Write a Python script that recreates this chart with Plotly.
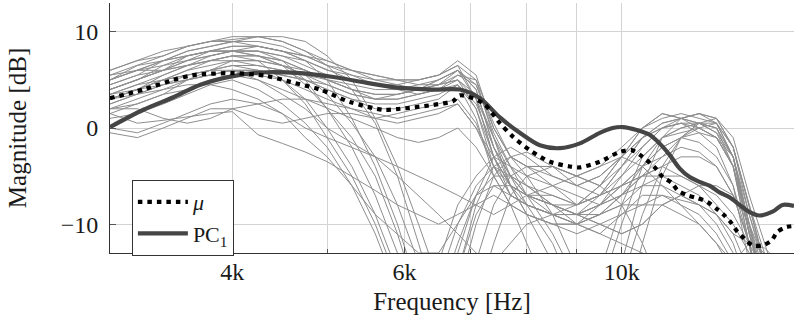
import numpy as np
import plotly.graph_objects as go

# Frequency grid (Hz) shared by the individual responses
freq_hz = [3000, 3200, 3400, 3600, 3800, 4000, 4250, 4500, 4750, 5000, 5300, 5600,
           5900, 6200, 6500, 6800, 7100, 7400, 7700, 8000, 8500, 9000, 9500, 10000,
           10500, 11000, 11500, 12000, 12500, 13000, 13500, 14000, 14500, 15000]

# Individual magnitude responses (dB); values below the axis floor run off the plot
resp_a1 = [5.5, 6.5, 7.5, 8.5, 9.0, 9.2, 9.5, 9.0, 8.0, 6.5, 4.0, 0.5, -5, -12, -19, -15, -8, -4, -3, -4, -6, -8, -7, -4, -1, 0.5, 1.0, 0.5, -0.5, -4, -12, -20, -20, -20]
resp_a2 = [4.0, 5.0, 6.5, 7.0, 7.5, 8.0, 8.0, 7.0, 5.0, 2.0, -2, -7, -13, -20, -16, -10, -6, -4, -5, -7, -9, -10, -8, -5, -2, 0, 0.5, -0.5, -2, -6, -14, -20, -20, -20]
resp_a3 = [3.0, 4.0, 5.5, 6.5, 7.0, 7.5, 7.0, 5.0, 2.5, -1, -5, -10, -16, -20, -14, -8, -5, -3, -4, -6, -8, -9, -10, -11, -10, -8, -7, -8, -10, -13, -18, -20, -20, -20]
resp_a4 = [5.0, 6.0, 6.0, 7.0, 8.0, 8.5, 8.5, 8.0, 7.0, 5.0, 1.0, -4, -10, -17, -20, -13, -7, -3, -2, -3, -5, -6, -5, -3, 0, 1.5, 1.0, 0.0, -1, -4, -12, -20, -20, -20]
resp_a5 = [2.0, 2.5, 3.5, 5.0, 6.0, 6.5, 6.0, 5.0, 3.0, 0.0, -4, -9, -15, -20, -20, -15, -9, -6, -6, -7, -8, -9, -8, -7, -6, -6, -7, -8, -9, -11, -15, -20, -20, -20]
resp_a6 = [4.5, 5.5, 7.0, 7.5, 8.0, 8.0, 7.5, 6.5, 4.5, 2.0, -1, -5, -11, -18, -20, -17, -10, -5, -3, -2.5, -4, -6, -7, -6, -5, -5, -6, -7, -9, -12, -17, -20, -20, -20]
resp_a7 = [3.5, 4.0, 5.0, 6.0, 7.0, 7.5, 7.5, 6.5, 5.5, 3.5, 0.5, -3, -8, -14, -20, -20, -14, -8, -5, -4, -4, -5, -6, -8, -12, -17, -20, -20, -18, -14, -12, -13, -16, -20]
resp_a8 = [5.0, 6.0, 7.0, 8.0, 8.5, 9.0, 9.5, 9.5, 9.0, 7.5, 5.0, 1.0, -4, -10, -16, -20, -18, -12, -7, -5, -4, -5, -6, -4, -2, 0.0, 1.0, 1.5, 0.5, -3, -10, -18, -20, -20]
resp_a9 = [1.0, 1.5, 2.5, 3.5, 4.5, 5.0, 4.0, 2.5, 0.5, -2, -6, -11, -17, -20, -18, -12, -7, -5, -5, -6, -8, -10, -11, -9, -7, -7, -8, -9, -11, -14, -20, -20, -20, -20]
resp_b1 = [4.0, 5.0, 6.0, 7.0, 7.5, 8.0, 8.0, 7.5, 7.0, 6.0, 5.5, 5.0, 5.0, 5.0, 5.5, 6.5, 3.0, -3, -6, -7, -8, -9, -7, -4, -1, 0.5, 1.0, 1.5, 1.0, -2, -9, -15, -20, -20]
resp_b2 = [3.0, 4.0, 5.0, 5.5, 6.0, 6.5, 6.5, 6.0, 5.5, 5.0, 4.5, 4.0, 4.0, 4.5, 5.0, 6.0, 4.0, -2, -5, -6, -7, -8, -6, -3, 0, 1.5, 1.0, 0.5, 0.0, -4, -11, -17, -20, -20]
resp_b3 = [6.0, 7.0, 8.0, 8.5, 9.0, 9.5, 9.5, 9.0, 8.0, 7.0, 6.0, 5.0, 4.5, 4.0, 4.5, 5.0, 2.0, -4, -7, -8, -9, -10, -9, -7, -4, -2, -1, -1.5, -3, -6, -12, -18, -20, -20]
resp_b4 = [2.5, 3.5, 4.5, 5.5, 6.0, 7.0, 7.0, 6.5, 6.0, 5.0, 4.0, 3.5, 3.5, 4.0, 4.5, 5.5, 5.0, -1, -6, -9, -10, -10, -9, -8, -8, -8, -9, -10, -12, -14, -18, -20, -20, -20]
resp_b5 = [5.0, 6.5, 7.0, 8.0, 8.5, 9.0, 9.0, 8.5, 7.5, 6.5, 5.5, 4.5, 4.0, 3.5, 4.0, 5.5, 4.5, -0.5, -4, -5, -6, -7, -8, -7, -5, -3, -1, 0.5, 0.0, -3, -9, -14, -18, -20]
resp_b6 = [4.5, 5.5, 6.0, 6.5, 7.0, 7.5, 7.5, 7.0, 6.0, 5.0, 4.0, 3.0, 3.0, 3.5, 4.0, 4.5, 1.0, -5, -8, -9, -10, -11, -10, -9, -8, -7, -7.5, -8, -9, -11, -12, -12.5, -14, -17]
resp_b7 = [3.5, 4.5, 5.5, 6.5, 7.5, 8.0, 8.5, 8.0, 7.0, 6.0, 5.0, 4.5, 4.5, 5.0, 5.5, 7.0, 5.5, 0.0, -3, -4, -5, -6, -5, -3, -1, 0.0, 0.5, 0.5, 0.0, -3, -10, -16, -20, -20]
resp_b8 = [2.0, 3.0, 4.0, 5.0, 5.5, 6.0, 6.0, 5.5, 5.0, 4.0, 3.0, 2.0, 2.0, 2.5, 3.0, 4.5, 2.0, -3, -7, -8, -9, -9, -8, -6, -4, -2, -1, -0.5, -1, -4, -10, -15, -20, -20]
resp_b9 = [6.0, 7.0, 7.5, 8.5, 9.0, 9.0, 8.5, 8.0, 7.5, 7.0, 6.0, 5.5, 5.0, 4.5, 4.5, 5.0, 3.5, -1, -5, -7, -8, -8, -6, -3, -1, 0, 0.5, 0, -1, -3, -11, -17, -20, -20]
resp_b10 = [3.0, 4.0, 4.5, 5.0, 5.5, 6.0, 6.0, 5.5, 5.0, 4.5, 3.5, 3.0, 3.5, 4.0, 4.5, 6.0, 4.0, -2, -6, -8, -9, -10, -11, -12, -13, -14, -14, -15, -16, -18, -20, -20, -20, -20]
resp_b11 = [4.0, 5.0, 6.0, 7.5, 8.0, 8.0, 8.0, 7.5, 6.5, 5.5, 5.0, 4.5, 4.0, 4.0, 5.0, 6.0, 3.0, -3, -6, -7, -7, -8, -7, -5, -3, -1, 0, 0.5, -0.5, -3, -11, -16, -20, -20]
resp_b12 = [5.5, 6.0, 7.0, 7.5, 8.0, 8.5, 8.5, 8.0, 7.5, 6.5, 6.0, 5.5, 5.0, 5.0, 5.5, 6.5, 5.0, 0.5, -3, -4, -4, -5, -4, -2, 0, 1.0, 1.5, 1.0, 0.5, -2, -8, -14, -20, -20]
resp_c1 = [0.0, -0.5, 0.5, 1.5, 2.5, 3.0, 2.5, 1.5, 0.0, -1, -2, -3, -4, -5, -6, -7, -8, -9, -8, -7, -6, -5, -4, -3, -4, -6, -8, -10, -12, -15, -20, -20, -20, -20]
resp_c2 = [-0.5, -1.0, 0.0, 1.0, 2.0, 2.0, 1.0, 0.5, 1.0, 1.5, 1.5, 1.0, 1.5, 2.0, 2.5, 3.0, 0.5, -4, -7, -8, -9, -9, -10, -11, -10, -8, -7, -6, -6, -7, -10, -14, -17, -20]
resp_c3 = [2.0, 2.0, 1.0, 0.5, 1.0, 2.0, 2.5, 3.0, 3.0, 2.5, 2.0, 1.5, 1.0, 1.5, 2.0, 2.5, 0.0, -4, -6, -7, -8, -9, -9, -8, -6, -5, -5, -6, -7, -9, -12, -15, -20, -20]
resp_c4 = [3.5, 4.5, 5.0, 5.5, 6.0, 6.0, 5.0, 3.5, 2.0, 0.0, -1.5, -3, -5, -7, -9, -11, -13, -14, -12, -10, -9, -8, -7, -6, -5, -4, -3, -3, -4, -7, -12, -18, -20, -20]
resp_c5 = [1.5, 0.5, 0.8, 1.2, 1.5, 1.7, -0.7, -1.6, -2.5, -3.5, -5, -6.5, -8, -9, -10, -9, -8, -7, -8, -9, -10, -10, -9, -7, -5, -4, -5, -6, -8, -10, -13, -16, -18, -20]
resp_c6 = [3.0, 3.5, 4.0, 4.5, 4.5, 4.0, 3.0, 1.5, -1, -3, -6, -9, -11, -13, -13, -10, -7, -6, -7, -8, -9, -9, -8, -6, -4, -3, -2, -2.5, -4, -7, -12, -18, -20, -20]
resp_d1 = [3.0, 4.0, 5.0, 6.0, 6.5, 7.0, 7.0, 6.5, 5.5, 4.5, 3.5, 3.0, 3.0, 3.5, 4.0, 5.0, 3.0, -1, -4, -7, -11, -16, -20, -14, -6, -1, 1.0, 1.5, 1.0, -2, -8, -14, -20, -20]
resp_d2 = [2.5, 3.5, 4.5, 5.0, 5.5, 6.0, 5.5, 5.0, 4.0, 3.0, 2.0, 1.0, 0.5, 1.0, 1.5, 2.5, 0.0, -3, -6, -9, -14, -20, -17, -10, -4, -1, 0.0, 0.5, 0.5, -3, -10, -17, -20, -20]
resp_d3 = [4.0, 5.0, 6.0, 6.5, 7.0, 7.0, 6.5, 6.0, 5.0, 4.0, 3.0, 2.5, 2.5, 3.0, 3.5, 4.5, 2.5, -2, -5, -8, -12, -18, -20, -16, -9, -4, -1, 0.0, 0.5, -2, -8, -13, -18, -20]
resp_d4 = [1.5, 2.5, 3.5, 4.0, 5.0, 5.5, 5.0, 4.0, 3.0, 2.0, 1.0, 0.0, -1, -1.5, -1, 0.0, -2, -5, -8, -12, -18, -20, -15, -8, -3, -1, -0.5, 0.0, -1, -4, -11, -17, -20, -20]
resp_d5 = [5.0, 6.0, 6.5, 7.5, 8.0, 8.0, 7.5, 7.0, 6.0, 5.0, 4.0, 3.5, 3.5, 4.0, 5.0, 6.0, 4.5, 0.0, -3, -5, -9, -15, -20, -20, -12, -5, -1, 0.5, 1.0, -1, -7, -12, -17, -20]

responses = [resp_a1, resp_a2, resp_a3, resp_a4, resp_a5, resp_a6, resp_a7, resp_a8, resp_a9,
             resp_b1, resp_b2, resp_b3, resp_b4, resp_b5, resp_b6, resp_b7, resp_b8, resp_b9,
             resp_b10, resp_b11, resp_b12,
             resp_c1, resp_c2, resp_c3, resp_c4, resp_c5, resp_c6,
             resp_d1, resp_d2, resp_d3, resp_d4, resp_d5]

# Mean response
mean_hz = [3000, 3245, 3483, 3650, 4009, 4343, 4584, 4916, 5277, 5704, 5935, 6417, 6723, 6835,
           7213, 7508, 7741, 8056, 8443, 8851, 9063, 9498, 9955, 10236, 10507, 10833, 11014,
           11249, 11409, 11681, 11955, 12239, 12501, 12736, 12949, 13131, 13348, 13603, 13929,
           14224, 14427, 14736, 15000]
mean_db = [3.1, 4.0, 5.0, 5.5, 5.7, 5.4, 4.8, 4.0, 2.7, 1.9, 2.0, 2.4, 2.8, 3.4,
           2.6, 0.5, -0.9, -2.3, -3.5, -4.0, -4.1, -3.5, -2.5, -2.3, -3.0, -4.2, -5.1,
           -5.7, -6.5, -7.0, -7.3, -7.7, -8.4, -9.1, -9.9, -10.8, -11.5, -12.2, -12.2,
           -11.7, -10.8, -10.3, -10.2]

# First principal component
pc1_hz = [3000, 3245, 3483, 3711, 4009, 4343, 4691, 5074, 5492, 5895, 6417, 6835, 7164, 7508,
          7869, 8249, 8645, 9063, 9498, 9790, 10024, 10359, 10680, 10932, 11195, 11459, 11735,
          12011, 12295, 12589, 12888, 13197, 13513, 13828, 14262, 14601, 15000]
pc1_db = [0.1, 1.9, 3.2, 4.5, 5.4, 5.8, 5.7, 5.3, 4.7, 4.2, 4.0, 4.0, 3.1, 1.1,
          -0.5, -1.8, -2.1, -1.6, -0.5, 0.0, 0.1, -0.2, -0.7, -1.6, -2.8, -4.2, -5.1,
          -5.6, -6.0, -6.7, -7.2, -8.0, -8.75, -9.1, -8.7, -8.0, -8.1]

major_hz = [4000, 6000, 10000]
major_text = ["4k", "6k", "10k"]
minor_hz = [5000, 7000, 8000, 9000]
y_ticks = [-10, 0, 10]

FONT = "Liberation Serif, DejaVu Serif, serif"
TXT = "#1a1a1a"
GRID = "#d3d3d3"
tick_font = dict(family=FONT, size=24, color=TXT)
title_font = dict(family=FONT, size=25, color=TXT)

fig = go.Figure()

for r in responses:
    fig.add_trace(go.Scatter(x=freq_hz, y=r, mode="lines",
                             line=dict(color="#8e8e8e", width=1),
                             showlegend=False, hoverinfo="skip"))

fig.add_trace(go.Scatter(x=pc1_hz, y=pc1_db, mode="lines", name="PC<sub>1</sub>",
                         line=dict(color="#454545", width=4.2, shape="spline", smoothing=0.8)))
fig.add_trace(go.Scatter(x=mean_hz, y=mean_db, mode="lines", name="<i>μ</i>",
                         line=dict(color="#000000", width=4.2, dash="4.5px,5px",
                                   shape="spline", smoothing=0.8)))

fig.update_layout(
    template="none",
    width=794, height=328,
    margin=dict(l=110, r=0, t=3, b=75),
    plot_bgcolor="white", paper_bgcolor="white",
    font=tick_font,
    showlegend=True,
    legend=dict(x=0.032, y=0.292, xanchor="left", yanchor="top",
                bgcolor="white", bordercolor="#333333", borderwidth=1,
                font=dict(family=FONT, size=22, color=TXT), traceorder="reversed",
                itemwidth=50, entrywidth=70, tracegroupgap=0),
    xaxis=dict(type="log", range=[np.log10(3000), np.log10(15000)],
               tickvals=major_hz, ticktext=major_text, tickfont=tick_font,
               ticks="inside", ticklen=6, tickcolor="#555555", tickwidth=1,
               ticklabelstandoff=-3,
               showgrid=True, gridcolor=GRID, gridwidth=1,
               minor=dict(tickvals=minor_hz, ticks="inside", ticklen=4,
                          tickcolor="#555555", showgrid=True,
                          gridcolor=GRID, gridwidth=1),
               showline=True, linecolor="#333333", linewidth=1,
               zeroline=False,
               title=dict(text="Frequency [Hz]", standoff=8, font=title_font)),
    yaxis=dict(range=[-13, 13], tickvals=y_ticks, tickfont=tick_font,
               ticks="inside", ticklen=6, tickcolor="#555555", tickwidth=1,
               showgrid=True, gridcolor=GRID, gridwidth=1,
               showline=True, linecolor="#333333", linewidth=1,
               zeroline=False, ticklabelstandoff=6,
               title=dict(text="Magnitude [dB]", standoff=26, font=title_font)),
)

fig.write_html("out.html")
